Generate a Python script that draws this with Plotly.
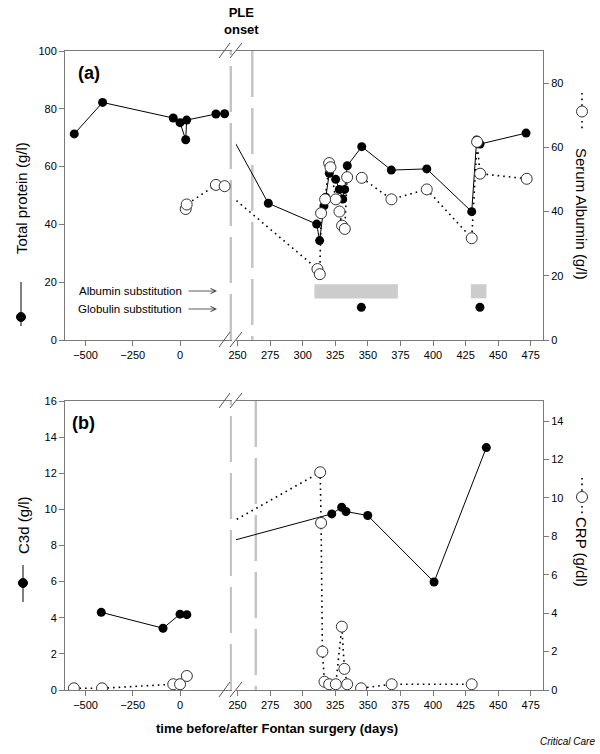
import plotly.graph_objects as go

# ---------------- data ----------------
# panel (a): before PLE onset (left axis segment)
pre_protein_days = [-560, -410, -36, 0, 30, 35, 190, 236]
pre_protein = [71.3, 82.2, 76.8, 75.2, 69.3, 76.1, 78.2, 78.3]
pre_albumin_days = [30, 35, 190, 236]
pre_albumin = [40.8, 42.2, 48.3, 47.9]

# panel (a): after PLE onset (right axis segment)
post_protein_days = [273.6, 310.7, 313.0, 316.3, 317.7, 320.4, 325.3, 328.1, 330.7,
                     332.2, 334.2, 345.3, 368.0, 395.2, 429.7, 433.5, 436.1, 471.4]
post_protein = [47.3, 40.1, 34.4, 46.4, 49.4, 57.7, 55.6, 52.1, 48.8,
                52.1, 60.3, 66.9, 58.8, 59.2, 44.4, 69.2, 67.8, 71.6]
post_albumin_days = [311.3, 313.1, 314.1, 317.2, 320.3, 321.3, 325.4, 328.2, 330.2,
                     332.3, 334.1, 345.3, 368.1, 395.2, 429.7, 433.8, 436.1, 471.9]
post_albumin = [22.1, 20.5, 39.5, 43.8, 55.1, 53.8, 43.8, 40.0, 35.6,
                34.6, 50.7, 50.5, 43.8, 46.9, 31.7, 61.7, 51.8, 50.2]

albumin_subst_start = [309, 429]
albumin_subst_end = [373, 441]
globulin_subst_days = [345, 436]

# panel (b)
pre_c3d_days = [-417, -90, 0, 36]
pre_c3d = [4.30, 3.42, 4.20, 4.17]
pre_crp_days = [-562, -413, -36, 0, 36]
pre_crp = [0.09, 0.09, 0.30, 0.30, 0.73]

post_c3d_days = [322.3, 329.9, 333.2, 349.9, 400.8, 440.9]
post_c3d = [9.75, 10.12, 9.88, 9.66, 5.98, 13.42]
post_crp_days = [313.4, 314.1, 315.1, 316.7, 320.3, 325.4, 330.0, 332.0, 334.1,
                 344.8, 368.3, 429.7]
post_crp = [11.34, 8.70, 2.00, 0.43, 0.30, 0.30, 3.30, 1.10, 0.30, 0.09, 0.30, 0.30]

left_ticks = [-500, -250, 0]
right_ticks = [250, 275, 300, 325, 350, 375, 400, 425, 450, 475]

# ---------------- layout helpers ----------------
W, H = 600, 754
ML, MR, MT, MB = 65, 57, 51, 64


def fx(px):
    return (px - ML) / (W - ML - MR)


def fy(py):
    return (H - MB - py) / (H - MT - MB)


dL, dR = fx(232), fx(236)
top_dom = [fy(340), 1.0]
bot_dom = [0.0, fy(401)]

FONT = "Liberation Sans, Arial, sans-serif"
AX = "#7a7a7a"

fill_marker = dict(symbol="circle", size=9, color="black")
open_marker = dict(symbol="circle", size=11, color="white", line=dict(color="#333", width=1))
solid = dict(color="black", width=1)
dotted = dict(color="black", width=1.6, dash="1.6px,4px")

fig = go.Figure()

# panel (a) traces
fig.add_trace(go.Scatter(x=pre_protein_days, y=pre_protein, xaxis="x", yaxis="y",
                         mode="lines+markers", line=solid, marker=fill_marker))
fig.add_trace(go.Scatter(x=[pre_protein_days[-1]] + post_protein_days,
                         y=[pre_protein[-1]] + post_protein, xaxis="x2", yaxis="y",
                         mode="lines+markers", line=solid, marker=fill_marker))
fig.add_trace(go.Scatter(x=globulin_subst_days, y=[11.3] * len(globulin_subst_days),
                         xaxis="x2", yaxis="y", mode="markers", marker=fill_marker))
fig.add_trace(go.Scatter(x=pre_albumin_days, y=pre_albumin, xaxis="x", yaxis="y2",
                         mode="lines+markers", line=dotted, marker=open_marker))
fig.add_trace(go.Scatter(x=[pre_albumin_days[-1]] + post_albumin_days,
                         y=[pre_albumin[-1]] + post_albumin, xaxis="x2", yaxis="y2",
                         mode="lines+markers", line=dotted, marker=open_marker))

# panel (b) traces
fig.add_trace(go.Scatter(x=pre_c3d_days, y=pre_c3d, xaxis="x3", yaxis="y3",
                         mode="lines+markers", line=solid, marker=fill_marker))
fig.add_trace(go.Scatter(x=[pre_c3d_days[-1]] + post_c3d_days,
                         y=[pre_c3d[-1]] + post_c3d, xaxis="x4", yaxis="y3",
                         mode="lines+markers", line=solid, marker=fill_marker))
fig.add_trace(go.Scatter(x=pre_crp_days, y=pre_crp, xaxis="x3", yaxis="y4",
                         mode="lines+markers", line=dotted, marker=open_marker))
fig.add_trace(go.Scatter(x=[pre_crp_days[-1]] + post_crp_days,
                         y=[pre_crp[-1]] + post_crp, xaxis="x4", yaxis="y4",
                         mode="lines+markers", line=dotted, marker=open_marker))

tickfont = dict(family=FONT, size=11, color="black")


def xax(domain, rng, ticks, anchor):
    return dict(domain=domain, range=rng, tickvals=ticks, anchor=anchor,
                showline=True, linecolor=AX, linewidth=1, mirror=True,
                ticks="outside", ticklen=5, tickcolor=AX, showgrid=False,
                zeroline=False, tickfont=tickfont)


def yax(domain, rng, ticks, anchor, side, overlaying=None):
    d = dict(domain=domain, range=rng, tickvals=ticks, anchor=anchor, side=side,
             showline=True, linecolor=AX, linewidth=1, mirror=False,
             ticks="outside", ticklen=5, tickcolor=AX, showgrid=False,
             zeroline=False, tickfont=tickfont)
    if overlaying:
        d["overlaying"] = overlaying
    return d


LRANGE = [-609, 275]
RRANGE = [248.8, 484.4]

fig.update_layout(
    width=W, height=H,
    margin=dict(l=ML, r=MR, t=MT, b=MB),
    paper_bgcolor="white", plot_bgcolor="rgba(0,0,0,0)",
    showlegend=False,
    font=dict(family=FONT, color="black"),
    xaxis=xax([0, dL], LRANGE, left_ticks, "y"),
    xaxis2=xax([dR, 1], RRANGE, right_ticks, "y"),
    xaxis3=xax([0, dL], LRANGE, left_ticks, "y3"),
    xaxis4=xax([dR, 1], RRANGE, right_ticks, "y3"),
    yaxis=yax(top_dom, [0, 100], [0, 20, 40, 60, 80, 100], "x", "left"),
    yaxis2=yax(top_dom, [0, 90], [0, 20, 40, 60, 80], "x2", "right", "y"),
    yaxis3=yax(bot_dom, [0, 16], list(range(0, 17, 2)), "x3", "left"),
    yaxis4=yax(bot_dom, [0, 15.05], list(range(0, 15, 2)), "x4", "right", "y3"),
)

shapes = []
# substitution bars
for s, e in zip(albumin_subst_start, albumin_subst_end):
    shapes.append(dict(type="rect", xref="x2", yref="y", x0=s, x1=e, y0=14.4, y1=19.3,
                       fillcolor="#cccccc", line=dict(width=0), layer="below"))

# PLE onset dashed lines
GR = "#c4c4c4"
for xr, yr, xv, rev in [("x", "y domain", 268.6, True), ("x2", "y domain", 261.3, False),
                        ("x3", "y3 domain", 270, True), ("x4", "y3 domain", 264, False)]:
    y0, y1 = (0, 1) if rev else (1, 0)
    shapes.append(dict(type="line", xref=xr, yref=yr, x0=xv, x1=xv, y0=y0, y1=y1,
                       line=dict(color=GR, width=2.5, dash="46px,11px"), layer="below"))

# axis break slashes
for py in [51, 340, 401, 690]:
    for x0, x1 in [(219, 230), (230, 242)]:
        shapes.append(dict(type="line", xref="paper", yref="paper",
                           x0=fx(x0), x1=fx(x1), y0=fy(py + 7), y1=fy(py - 8),
                           line=dict(color="#555", width=1)))


# legend symbols next to axis titles
def sym_line(px, py0, py1, dash=None):
    ln = dict(color="black", width=1.6 if dash else 1)
    if dash:
        ln["dash"] = dash
    return dict(type="line", xref="paper", yref="paper", x0=fx(px), x1=fx(px),
                y0=fy(py0), y1=fy(py1), line=ln)


def sym_circle(px, py, filled, r=4.5):
    return dict(type="circle", xref="paper", yref="paper", xsizemode="pixel",
                ysizemode="pixel", xanchor=fx(px), yanchor=fy(py),
                x0=-r, x1=r, y0=-r, y1=r,
                fillcolor="black" if filled else "white",
                line=dict(color="black" if filled else "#333", width=1))


shapes += [sym_line(21, 282, 326), sym_circle(21, 317, True),
           sym_line(582, 93, 130, "1.6px,4px"), sym_circle(582, 111.5, False, 5.5),
           sym_line(23, 565, 602), sym_circle(23, 583, True),
           sym_line(582, 478, 516, "1.6px,4px"), sym_circle(582, 497, False, 5.5)]

fig.update_layout(shapes=shapes)

ann = []


def text(px, py, t, size=15, angle=0, bold=False, italic=False, xanchor="center"):
    if bold:
        t = "<b>" + t + "</b>"
    if italic:
        t = "<i>" + t + "</i>"
    ann.append(dict(x=fx(px), y=fy(py), xref="paper", yref="paper", text=t,
                    showarrow=False, textangle=angle, xanchor=xanchor, yanchor="middle",
                    font=dict(family=FONT, size=size, color="black")))


text(21, 198, "Total protein (g/l)", 15, -90)
text(582, 214, "Serum Albumin (g/l)", 15, 90)
text(23, 525, "C3d (g/l)", 15, -90)
text(582, 552, "CRP (g/dl)", 15, 90)
text(89, 73, "(a)", 18, bold=True)
text(83, 423, "(b)", 18, bold=True)
text(241, 21, "PLE<br>onset", 13, bold=True)
text(277, 728, "time before/after Fontan surgery (days)", 13, bold=True)
text(597, 741, "Critical Care", 10, italic=True, xanchor="right")
text(184, 291, "Albumin substitution", 11.5, xanchor="right")
text(184, 309, "Globulin substitution", 11.5, xanchor="right")

for py in [291, 309]:
    ann.append(dict(x=fx(217), y=fy(py), xref="paper", yref="paper", text="",
                    showarrow=True, ax=-30, ay=0, arrowhead=5, arrowsize=1.3,
                    arrowwidth=0.8, arrowcolor="#333"))

fig.update_layout(annotations=ann)

fig.write_html(
    "out.html",
    config={"displayModeBar": False},
    post_script="document.body.style.margin='0';document.body.style.overflow='hidden';",
)
